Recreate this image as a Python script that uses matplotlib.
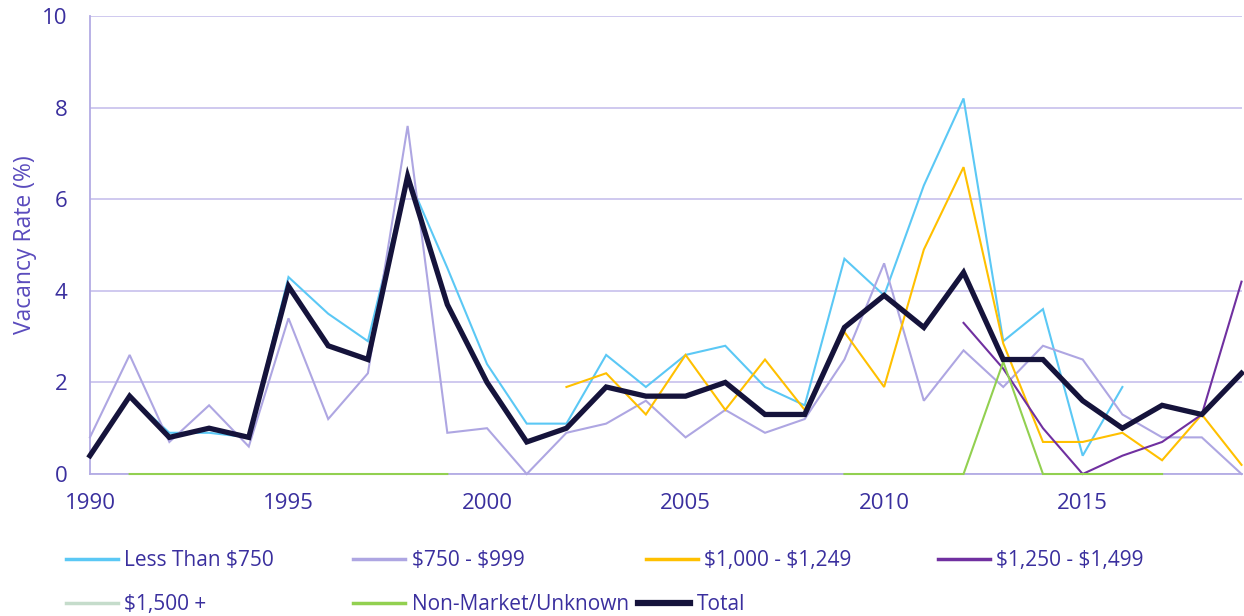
#!/usr/bin/env python3
"""Rental vacancy rate by rent range, 1990-2019."""

import numpy as np
import matplotlib
matplotlib.use("Agg")
import matplotlib.pyplot as plt
from matplotlib.lines import Line2D

nan = np.nan

years = list(range(1990, 2020))

less_than_750 = [0.4, 1.7, 0.9, 0.9, 0.8, 4.3, 3.5, 2.9, 6.5, 4.5,
                 2.4, 1.1, 1.1, 2.6, 1.9, 2.6, 2.8, 1.9, 1.5, 4.7,
                 3.9, 6.3, 8.2, 2.9, 3.6, 0.4, 1.9, nan, nan, nan]
r750_999 = [0.8, 2.6, 0.7, 1.5, 0.6, 3.4, 1.2, 2.2, 7.6, 0.9,
            1.0, 0.0, 0.9, 1.1, 1.6, 0.8, 1.4, 0.9, 1.2, 2.5,
            4.6, 1.6, 2.7, 1.9, 2.8, 2.5, 1.3, 0.8, 0.8, 0.0]
r1000_1249 = [nan, nan, nan, nan, nan, nan, nan, nan, nan, nan,
              nan, nan, 1.9, 2.2, 1.3, 2.6, 1.4, 2.5, 1.4, 3.1,
              1.9, 4.9, 6.7, 2.85, 0.7, 0.7, 0.9, 0.3, 1.3, 0.2]
r1250_1499 = [nan, nan, nan, nan, nan, nan, nan, nan, nan, nan,
              nan, nan, nan, nan, nan, nan, nan, nan, nan, nan,
              nan, nan, 3.3, 2.3, 1.0, 0.0, 0.4, 0.7, 1.3, 4.2]
r1500_plus = [nan] * 30
non_market = [nan, 0.0, 0.0, 0.0, 0.0, 0.0, 0.0, 0.0, 0.0, 0.0,
              nan, nan, nan, nan, nan, nan, nan, nan, nan, 0.0,
              0.0, 0.0, 0.0, 2.45, 0.0, 0.0, 0.0, 0.0, nan, nan]
total = [0.4, 1.7, 0.8, 1.0, 0.8, 4.1, 2.8, 2.5, 6.5, 3.7,
         2.0, 0.7, 1.0, 1.9, 1.7, 1.7, 2.0, 1.3, 1.3, 3.2,
         3.9, 3.2, 4.4, 2.5, 2.5, 1.6, 1.0, 1.5, 1.3, 2.2]

series = [
    ("Less Than \\$750", less_than_750, "#5bc8f5", 1.5),
    ("\\$750 - \\$999", r750_999, "#aea6e2", 1.5),
    ("\\$1,000 - \\$1,249", r1000_1249, "#ffc000", 1.5),
    ("\\$1,250 - \\$1,499", r1250_1499, "#7030a0", 1.5),
    ("\\$1,500 +", r1500_plus, "#c5dccb", 1.5),
    ("Non-Market/Unknown", non_market, "#92d050", 1.5),
    ("Total", total, "#15133b", 3.8),
]

TEXT = "#3a2f9e"
GRID = "#cbc5ee"

plt.rcParams["font.family"] = ["Open Sans", "DejaVu Sans"]

fig = plt.figure(figsize=(12.44, 6.16), dpi=100)
ax = fig.add_axes([0.0723, 0.2305, 0.9257, 0.7435])

for label, values, color, lw in series:
    ax.plot(years, values, color=color, linewidth=lw, label=label,
            solid_joinstyle="miter", clip_on=False,
            zorder=4 if label == "Total" else 3)

ax.set_xlim(1990, 2019)
ax.set_ylim(0, 10)
ax.set_yticks([0, 2, 4, 6, 8, 10])
ax.set_xticks([1990, 1995, 2000, 2005, 2010, 2015])
ax.yaxis.grid(True, color=GRID, linewidth=1.3)
ax.set_axisbelow(True)
for side in ["top", "right"]:
    ax.spines[side].set_visible(False)
for side in ["left", "bottom"]:
    ax.spines[side].set_color("#b3abe4")
    ax.spines[side].set_linewidth(1.3)
ax.tick_params(axis="both", length=0, labelsize=16, labelcolor=TEXT)
ax.tick_params(axis="y", pad=16)
ax.tick_params(axis="x", pad=14)
ax.set_ylabel("Vacancy Rate (%)", fontsize=16.5, color="#5a4bbd", labelpad=4)

# legend laid out on a fixed grid, like the original
handles = [Line2D([], [], color=c, linewidth=(4.5 if lab == "Total" else 2.5))
           for lab, _, c, _ in series]
positions = [(0.053, 0.073), (0.284, 0.073), (0.519, 0.073), (0.754, 0.073),
             (0.053, 0.001), (0.284, 0.001), (0.513, 0.001)]
for h, (lab, _, _, _), (px, py) in zip(handles, series, positions):
    leg = fig.legend([h], [lab], loc="lower left", bbox_to_anchor=(px, py),
                     frameon=False, fontsize=15, handlelength=2.5,
                     handletextpad=0.3, borderaxespad=0, borderpad=0)
    for t in leg.get_texts():
        t.set_color(TEXT)

fig.savefig("out.png", dpi=100)
